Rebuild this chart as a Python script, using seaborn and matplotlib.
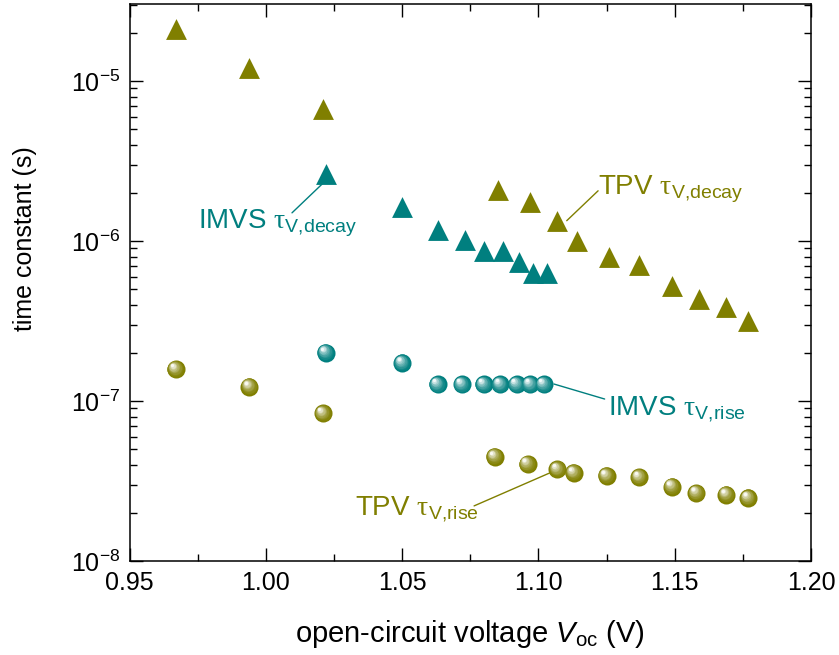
import matplotlib
matplotlib.use("Agg")
import matplotlib.pyplot as plt
import matplotlib.transforms as mtransforms
import matplotlib.colors as mcolors
import numpy as np
import pandas as pd
import seaborn as sns

# --- data ---
tpv_decay_v = [0.967, 0.994, 1.021, 1.085, 1.097, 1.107, 1.114, 1.126, 1.137, 1.149, 1.159, 1.169, 1.177]
tpv_decay_t = [2.11e-5, 1.21e-5, 6.68e-6, 2.08e-6, 1.75e-6, 1.33e-6, 1.00e-6, 7.9e-7, 7.08e-7, 5.23e-7, 4.36e-7, 3.85e-7, 3.15e-7]

imvs_decay_v = [1.022, 1.050, 1.063, 1.073, 1.080, 1.087, 1.093, 1.098, 1.103]
imvs_decay_t = [2.62e-6, 1.63e-6, 1.18e-6, 1.01e-6, 8.66e-7, 8.66e-7, 7.36e-7, 6.28e-7, 6.28e-7]

tpv_rise_v = [0.967, 0.994, 1.021, 1.084, 1.096, 1.107, 1.113, 1.125, 1.137, 1.149, 1.158, 1.169, 1.177]
tpv_rise_t = [1.58e-7, 1.23e-7, 8.38e-8, 4.49e-8, 4.04e-8, 3.74e-8, 3.56e-8, 3.41e-8, 3.34e-8, 2.92e-8, 2.66e-8, 2.60e-8, 2.48e-8]

imvs_rise_v = [1.022, 1.050, 1.063, 1.072, 1.080, 1.086, 1.092, 1.097, 1.102]
imvs_rise_t = [2.01e-7, 1.73e-7, 1.27e-7, 1.27e-7, 1.27e-7, 1.27e-7, 1.27e-7, 1.27e-7, 1.27e-7]

OLIVE = "#807f00"
TEAL = "#007f7f"

sns.set_style("ticks")
plt.rcParams["font.family"] = ["Liberation Sans", "DejaVu Sans"]
plt.rcParams["mathtext.fontset"] = "custom"
plt.rcParams["mathtext.rm"] = "Liberation Sans"
plt.rcParams["mathtext.it"] = "Liberation Sans:italic"
plt.rcParams["mathtext.sf"] = "Liberation Serif"
plt.rcParams["axes.unicode_minus"] = False
plt.rcParams["text.color"] = "black"
plt.rcParams["axes.labelcolor"] = "black"
plt.rcParams["xtick.color"] = "black"
plt.rcParams["ytick.color"] = "black"

fig = plt.figure(figsize=(8.39, 6.55), dpi=100)
ax = fig.add_axes([0.1544, 0.1435, 0.8122, 0.8504])


def spheres(ax, x, y, color, d=13, n=9):
    # shaded ball: base disc plus lighter discs shifted to the upper left
    sns.scatterplot(x=x, y=y, s=d**2, color=color, linewidth=0, ax=ax, zorder=3)
    base = np.array(mcolors.to_rgb(color))
    for k in range(1, n + 1):
        f = k / n
        c = base + (1 - base) * (0.95 * f**1.6)
        size = d * (1 - 0.82 * f)
        off = mtransforms.ScaledTranslation(-0.2 * d * f / 72, 0.22 * d * f / 72, fig.dpi_scale_trans)
        ax.scatter(x, y, s=size**2, color=c, linewidths=0, zorder=3 + f,
                   transform=ax.transData + off)


sns.scatterplot(x=tpv_decay_v, y=tpv_decay_t, marker="^", s=15**2, color=OLIVE, linewidth=0, ax=ax, zorder=3)
sns.scatterplot(x=imvs_decay_v, y=imvs_decay_t, marker="^", s=15**2, color=TEAL, linewidth=0, ax=ax, zorder=3)
spheres(ax, tpv_rise_v, tpv_rise_t, OLIVE)
spheres(ax, imvs_rise_v, imvs_rise_t, TEAL)

ax.set_yscale("log")
ax.set_xlim(0.95, 1.20)
ax.set_ylim(1e-8, 3.03e-5)
ax.set_xticks([0.95, 1.00, 1.05, 1.10, 1.15, 1.20])
ax.set_xticklabels(["0.95", "1.00", "1.05", "1.10", "1.15", "1.20"])
ax.xaxis.set_minor_locator(matplotlib.ticker.MultipleLocator(0.025))

ax.tick_params(which="both", direction="in", top=True, right=True, labelsize=18, width=1.0)
ax.tick_params(which="major", length=9.5, pad=7)
ax.tick_params(which="minor", length=5)
for sp in ax.spines.values():
    sp.set_linewidth(1.1)
    sp.set_color("black")

ax.set_xlabel(r"open-circuit voltage $V_{\mathrm{oc}}$ (V)", fontsize=21, labelpad=17)
ax.set_ylabel("time constant (s)", fontsize=18)
ax.yaxis.set_label_coords(-0.136, 0.578)

# labels with leader lines
labels = [
    (r"IMVS $\mathsf{\tau}_{\mathrm{V{,}decay}}$", 0.9751, 1.20e-6, TEAL, [1.0096, 1.0210], [1.50e-6, 2.30e-6]),
    (r"TPV $\mathsf{\tau}_{\mathrm{V{,}decay}}$", 1.1219, 1.94e-6, OLIVE, [1.1219, 1.1104], [2.06e-6, 1.34e-6]),
    (r"IMVS $\mathsf{\tau}_{\mathrm{V{,}rise}}$", 1.1255, 8.18e-8, TEAL, [1.1057, 1.1243], [1.277e-7, 1.029e-7]),
    (r"TPV $\mathsf{\tau}_{\mathrm{V{,}rise}}$", 1.0326, 1.94e-8, OLIVE, [1.0764, 1.1043], [2.21e-8, 3.56e-8]),
]
for txt, tx, ty, col, lx, ly in labels:
    ax.text(tx, ty, txt, color=col, fontsize=20, ha="left", va="baseline")
    ax.plot(lx, ly, color=col, lw=1.0, zorder=2)

fig.savefig("out.png", dpi=100)
